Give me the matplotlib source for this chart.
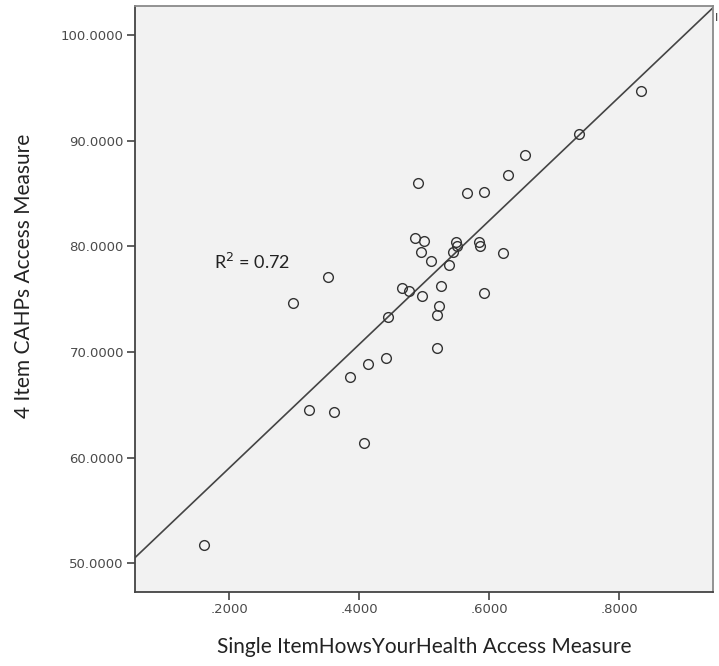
import numpy as np
import matplotlib
matplotlib.use("Agg")
import matplotlib.pyplot as plt

single_item = [0.8334, 0.7383, 0.6549, 0.6283, 0.4903, 0.5652, 0.5922,
               0.4857, 0.5000, 0.4949, 0.5103, 0.5483, 0.5498, 0.5437,
               0.5380, 0.5834, 0.5860, 0.6206, 0.3518, 0.4657, 0.4769,
               0.4962, 0.5260, 0.5915, 0.2985, 0.5226, 0.5198, 0.4434,
               0.5195, 0.4411, 0.4129, 0.3857, 0.3226, 0.3615, 0.4072,
               0.1615]
cahps_4item = [94.70, 90.60, 88.60, 86.78, 85.97, 85.08, 85.17,
               80.82, 80.48, 79.51, 78.64, 80.39, 80.08, 79.45,
               78.26, 80.41, 80.08, 79.34, 77.07, 76.03, 75.79,
               75.28, 76.25, 75.57, 74.61, 74.39, 73.52, 73.28,
               70.41, 69.46, 68.84, 67.64, 64.55, 64.37, 61.42,
               51.77]

# 拟合线（斜率/截距读自图）
fit_slope = 58.5
fit_intercept = 47.34
r2_text = "R$^2$ = 0.72"

x_ticks = [0.2, 0.4, 0.6, 0.8]
x_ticklabels = [".2000", ".4000", ".6000", ".8000"]
y_ticks = [50, 60, 70, 80, 90, 100]
y_ticklabels = ["50.0000", "60.0000", "70.0000", "80.0000", "90.0000", "100.0000"]
xlim = (0.0549, 0.9437)
ylim = (47.33, 102.74)

fig = plt.figure(figsize=(7.19, 6.66), dpi=100)
ax = fig.add_axes([0.1878, 0.1116, 0.8034, 0.8794])
ax.set_facecolor("#f2f2f2")

xs = np.array(xlim)
ax.plot(xs, fit_intercept + fit_slope * xs, color="#444444", lw=1.2, zorder=2)
ax.plot(single_item, cahps_4item, "o", ms=7, mfc="none", mec="#333333",
        mew=1.0, zorder=3)

ax.text(0.1765, 78.52, r2_text, fontsize=13, family="Lato", color="#222222",
        va="center", ha="left")

ax.set_xlim(*xlim)
ax.set_ylim(*ylim)
ax.set_xticks(x_ticks)
ax.set_xticklabels(x_ticklabels)
ax.set_yticks(y_ticks)
ax.set_yticklabels(y_ticklabels)
ax.tick_params(direction="out", length=6, width=1.2, color="#444444",
               labelsize=9.5, labelcolor="#4a4a4a", pad=2)

for side in ["left", "bottom"]:
    ax.spines[side].set_color("#444444")
    ax.spines[side].set_linewidth(1.3)
for side in ["top", "right"]:
    ax.spines[side].set_color("#8a8a8a")
    ax.spines[side].set_linewidth(1.3)

ax.set_xlabel("Single ItemHowsYourHealth Access Measure", fontsize=15,
              family="Lato", color="#222222")
ax.set_ylabel("4 Item CAHPs Access Measure", fontsize=15,
              family="Lato", color="#222222")
ax.xaxis.set_label_coords(0.50, -0.077)
ax.yaxis.set_label_coords(-0.175, 0.54)

fig.text(0.996, 0.973, "I", fontsize=8, color="#333333", ha="center", va="center")

plt.savefig("out.png", dpi=100)
